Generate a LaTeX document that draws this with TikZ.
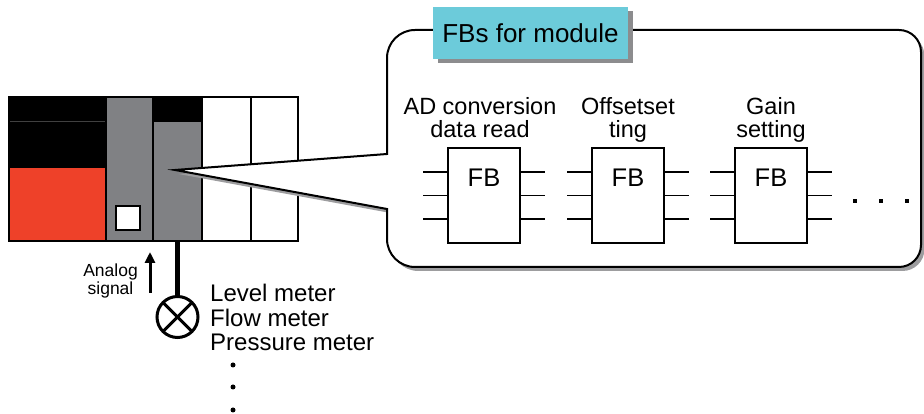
\documentclass[tikz,border=0pt]{standalone}
\usepackage{fontspec}
\setmainfont{Liberation Sans}
\usetikzlibrary{arrows.meta}
\definecolor{plcred}{HTML}{EE4129}
\definecolor{plcgray}{HTML}{808184}
\definecolor{tabcyan}{HTML}{6CCBDA}
\definecolor{shadegray}{HTML}{8C8C8E}
\begin{document}
\begin{tikzpicture}[x=1pt,y=1pt,
  rackline/.style={draw=black, line width=2pt},
  module/.style={draw=black, line width=2pt, minimum width=49pt, minimum height=144pt, inner sep=0pt, outer sep=0pt},
  fbbox/.style={draw=black, line width=1.5pt, fill=white, minimum width=72pt, minimum height=95pt, inner sep=0pt, outer sep=0pt},
  fbtext/.style={font=\fontsize{25.5}{26}\selectfont, inner sep=0pt, anchor=base},
  pin/.style={line width=1.5pt},
  labeltext/.style={font=\fontsize{23.5}{24}\selectfont, inner sep=0pt, anchor=base},
  metertext/.style={font=\fontsize{24}{25}\selectfont, inner sep=0pt, anchor=base west},
  smalltext/.style={font=\fontsize{17.5}{18}\selectfont, inner sep=0pt, anchor=base},
  enddot/.style={fill=black, minimum size=4.5pt, inner sep=0pt},
]
\useasboundingbox (0,0) rectangle (924,414);

% ---- PLC rack ----
% power / CPU module
\fill[black] (9,173) rectangle (106,317);
\fill[plcred] (9,173) rectangle (106,246);
\draw[black!75, line width=1pt] (10,292) -- (105,292);
% I/O module with window
\node[module, fill=plcgray, anchor=south west] (io) at (106,173) {};
\node[draw=black, line width=2pt, fill=white, minimum size=24pt, inner sep=0pt] (win) at (128,196) {};
% analog input module
\node[module, fill=plcgray, anchor=south west] (adm) at (153,173) {};
\fill[black] (153,292) rectangle (202,317);
% empty slots
\node[module, fill=white, anchor=south west] (slot1) at (202,173) {};
\node[module, fill=white, anchor=south west, minimum width=47pt] (slot2) at (251,173) {};
% rack outline
\draw[rackline] (9,173) rectangle (298,317);
\foreach \xx in {106,153,202,251} \draw[rackline] (\xx,173) -- (\xx,317);

% ---- sensor and cable ----
\node[circle, draw=black, line width=3pt, minimum size=41pt, inner sep=0pt, outer sep=0pt, fill=white] (sensor) at (177.5,97) {};
\draw[line width=3pt] (sensor.north east) -- (sensor.south west);
\draw[line width=3pt] (sensor.north west) -- (sensor.south east);
\draw[line width=4.5pt] (adm.south) -- (sensor.north);

% signal direction
\draw[line width=3pt, -{Triangle[length=11pt,width=10pt]}] (150,121) -- (150,162);
\node[smalltext] (sigA) at (110.5,137) {Analog};
\node[smalltext] (sigB) at (110.5,119) {signal};

% meter list
\node[metertext] (m1) at (210,112) {Level meter};
\node[metertext] (m2) at (210,87.5) {Flow meter};
\node[metertext] (m3) at (210,63) {Pressure meter};
\foreach \yy [count=\i] in {49,27,4}
  \node[circle, fill=black, minimum size=5pt, inner sep=0pt] (md\i) at (233,\yy) {};

% ---- callout ----
\def\calloutpath{(175,244) -- (387,260) -- (387,356)
  arc[start angle=180, end angle=90, radius=28] -- (899,384)
  arc[start angle=90, end angle=0, radius=22] -- (921,169)
  arc[start angle=0, end angle=-90, radius=22] -- (415,147)
  arc[start angle=270, end angle=180, radius=28] -- (387,205) -- cycle}
\fill[shadegray!85, shift={(3.5,-4)}] \calloutpath;
\filldraw[fill=white, draw=black, line width=2pt, line join=miter] \calloutpath;

% title tab
\fill[shadegray] (438,351) rectangle (633,403);
\node[fill=tabcyan, minimum width=195pt, minimum height=52pt, inner sep=0pt,
      font=\fontsize{26}{27}\selectfont] (tab) at (530.5,381) {FBs for module};

% ---- function blocks ----
\node[fbbox] (fb1) at (484,218.5) {};
\node[fbbox] (fb2) at (628,218.5) {};
\node[fbbox] (fb3) at (771,218.5) {};
\foreach \b in {fb1,fb2,fb3} {
  \node[fbtext] at ([yshift=-39pt]\b.north) {FB};
  \foreach \dy in {23.5,0,-23.5} {
    \draw[pin] ([yshift=\dy pt]\b.west) -- ++(-25,0);
    \draw[pin] ([yshift=\dy pt]\b.east) -- ++(25,0);
  }
}
\node[labeltext] (l1a) at (480,299) {AD conversion};
\node[labeltext] (l1b) at (480,276) {data read};
\node[labeltext] (l2a) at (628,299) {Offsetset};
\node[labeltext] (l2b) at (628,276) {ting};
\node[labeltext] (l3a) at (771,299) {Gain};
\node[labeltext] (l3b) at (771,276) {setting};

% more blocks follow
\foreach \xx [count=\i] in {855,881,907}
  \node[enddot] (more\i) at (\xx,213) {};
\end{tikzpicture}
\end{document}
